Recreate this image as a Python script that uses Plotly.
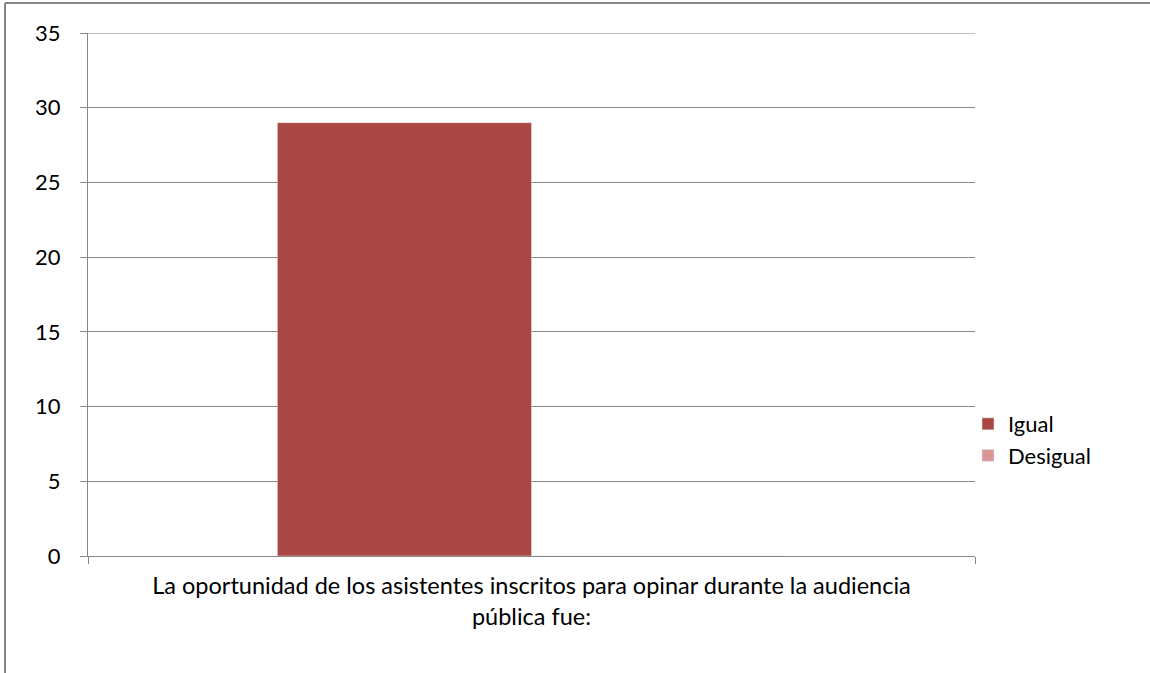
import plotly.graph_objects as go

categories = ["La oportunidad de los asistentes inscritos para opinar durante la audiencia<br>pública fue:"]
series_names = ["Igual", "Desigual"]
igual = [29]
desigual = [0]
y_ticks = [0, 5, 10, 15, 20, 25, 30, 35]

W, H = 1150, 673
L, R, T, B = 88, 175, 33, 117
pw, ph = W - L - R, H - T - B


def px_x(x):
    return (x - L) / pw


def px_y(y):
    return (H - B - y) / ph


grey = "#868686"
font = "Lato, 'Open Sans', sans-serif"
fs = 22

fig = go.Figure()
fig.add_trace(go.Bar(x=categories, y=igual, name=series_names[0], marker_color="#AA4643"))
fig.add_trace(go.Bar(x=categories, y=desigual, name=series_names[1], marker_color="#D99694"))

fig.update_layout(
    width=W, height=H,
    margin=dict(l=L, r=R, t=T, b=B, autoexpand=False),
    paper_bgcolor="white", plot_bgcolor="white",
    barmode="group", bargap=0.427, bargroupgap=0,
    font=dict(family=font, size=fs, color="#000000"),
    showlegend=True,
    legend=dict(x=px_x(968), y=px_y(440), xanchor="left", yanchor="middle",
                font=dict(size=fs), itemwidth=30, tracegroupgap=2,
                bgcolor="rgba(0,0,0,0)"),
    xaxis=dict(type="category", tickson="boundaries", ticks="outside", ticklen=7,
               tickcolor=grey, showline=True, linecolor=grey, linewidth=1,
               showgrid=False, tickfont=dict(size=23.5), ticklabelstandoff=9),
    yaxis=dict(range=[0, 35], tickvals=y_ticks, ticks="outside", ticklen=7,
               tickcolor=grey, showline=True, linecolor=grey, linewidth=1,
               showgrid=True, gridcolor=grey, gridwidth=1, zeroline=False,
               tickfont=dict(size=fs), ticklabelstandoff=15),
    shapes=[
        # gridline at the top tick, which sits on the plot edge
        dict(type="line", xref="paper", yref="y", x0=0, x1=1,
             y0=y_ticks[-1], y1=y_ticks[-1], line=dict(color=grey, width=1)),
        # chart-area frame (left and top edges)
        dict(type="line", xref="paper", yref="paper", x0=px_x(5), x1=px_x(5),
             y0=px_y(3), y1=px_y(H + 5), line=dict(color=grey, width=2)),
        dict(type="line", xref="paper", yref="paper", x0=px_x(5), x1=px_x(W + 5),
             y0=px_y(3), y1=px_y(3), line=dict(color=grey, width=2)),
    ],
)

fig.write_html("out.html")
